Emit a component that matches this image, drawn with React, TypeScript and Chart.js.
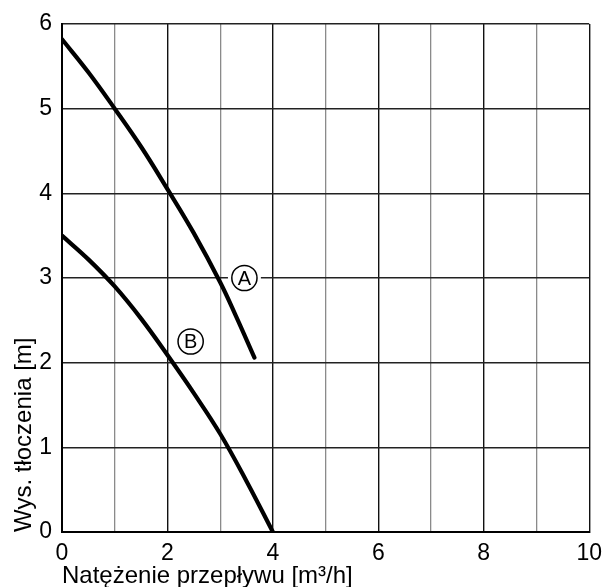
import React, { useEffect, useRef } from "react";
import { Chart, registerables } from "chart.js";

Chart.register(...registerables);

const curveAX = [0, 0.5, 1, 1.5, 2, 2.5, 3, 3.3, 3.65];
const curveAY = [5.82, 5.43, 5.0, 4.55, 4.05, 3.53, 2.95, 2.55, 2.06];
const curveBX = [0, 0.5, 1, 1.5, 2, 2.5, 3, 3.5, 4];
const curveBY = [3.5, 3.22, 2.9, 2.52, 2.09, 1.64, 1.16, 0.6, 0];

const markerNames = ["A", "B"];
const markerX = [3.46, 2.44];
const markerY = [3.0, 2.25];

const xTitle = "Natężenie przepływu [m³/h]";
const yTitle = "Wys. tłoczenia [m]";
const xMin = 0, xMax = 10, yMin = 0, yMax = 6;

const FONT = "'Liberation Sans', Arial, sans-serif";

const markerPlugin = {
  id: "markers",
  afterDatasetsDraw(chart: any) {
    const ctx = chart.ctx;
    const xs = chart.scales.x, ys = chart.scales.y;
    ctx.save();
    markerNames.forEach((name, i) => {
      const px = xs.getPixelForValue(markerX[i]);
      const py = ys.getPixelForValue(markerY[i]);
      ctx.beginPath();
      ctx.fillStyle = "#fff";
      ctx.arc(px, py, 16.5, 0, Math.PI * 2);
      ctx.fill();
      ctx.beginPath();
      ctx.strokeStyle = "#000";
      ctx.lineWidth = 1.5;
      ctx.arc(px, py, 12.6, 0, Math.PI * 2);
      ctx.stroke();
      ctx.fillStyle = "#000";
      ctx.font = `20px ${FONT}`;
      ctx.textAlign = "center";
      ctx.textBaseline = "middle";
      ctx.fillText(name, px, py + 1);
    });
    ctx.restore();
  },
};

export default function App() {
  const ref = useRef<HTMLCanvasElement>(null);
  useEffect(() => {
    if (!ref.current) return;
    const chart = new Chart(ref.current, {
      type: "line",
      data: {
        datasets: [
          {
            label: "A",
            data: curveAX.map((x, i) => ({ x, y: curveAY[i] })),
            borderColor: "#000",
            borderWidth: 4.2,
            pointRadius: 0,
            tension: 0.4,
            borderCapStyle: "round",
            fill: false,
          },
          {
            label: "B",
            data: curveBX.map((x, i) => ({ x, y: curveBY[i] })),
            borderColor: "#000",
            borderWidth: 4.2,
            pointRadius: 0,
            tension: 0.4,
            borderCapStyle: "round",
            fill: false,
          },
        ],
      },
      options: {
        responsive: false,
        animation: false,
        events: [],
        layout: { padding: { top: 24, right: 19, left: 0, bottom: 0 } },
        plugins: { legend: { display: false }, tooltip: { enabled: false } },
        scales: {
          x: {
            type: "linear",
            min: xMin,
            max: xMax,
            afterFit: (s: any) => { s.height = 55; },
            ticks: {
              stepSize: 1,
              autoSkip: false,
              maxRotation: 0,
              padding: 8,
              color: "#000",
              font: { family: FONT, size: 23 },
              callback: (v: any) => (Number(v) % 2 === 0 ? String(v) : ""),
            },
            grid: {
              drawTicks: false,
              color: (c: any) => (c.tick && c.tick.value % 2 === 0 ? "#111" : "#8a8a8a"),
              lineWidth: (c: any) => (c.tick && c.tick.value % 2 === 0 ? 1.4 : 1.3),
            },
            border: { color: "#000", width: 2 },
            title: {
              display: true,
              text: xTitle,
              align: "start",
              color: "#000",
              font: { family: FONT, size: 24 },
              padding: { top: 0, bottom: -4 },
            },
          },
          y: {
            type: "linear",
            min: yMin,
            max: yMax,
            afterFit: (s: any) => { s.width = 62; },
            ticks: {
              stepSize: 1,
              padding: 10,
              color: "#000",
              font: { family: FONT, size: 23 },
            },
            grid: { drawTicks: false, color: "#222", lineWidth: 1.4 },
            border: { color: "#000", width: 2 },
            title: {
              display: true,
              text: yTitle,
              align: "start",
              color: "#000",
              font: { family: FONT, size: 24 },
              padding: { top: 10, bottom: 0 },
            },
          },
        },
      },
      plugins: [markerPlugin],
    } as any);
    return () => chart.destroy();
  }, []);
  return (
    <div style={{ position: "fixed", left: 0, top: 0, width: 610, height: 587, background: "#fff" }}>
      <canvas ref={ref} width={610} height={587} />
    </div>
  );
}
